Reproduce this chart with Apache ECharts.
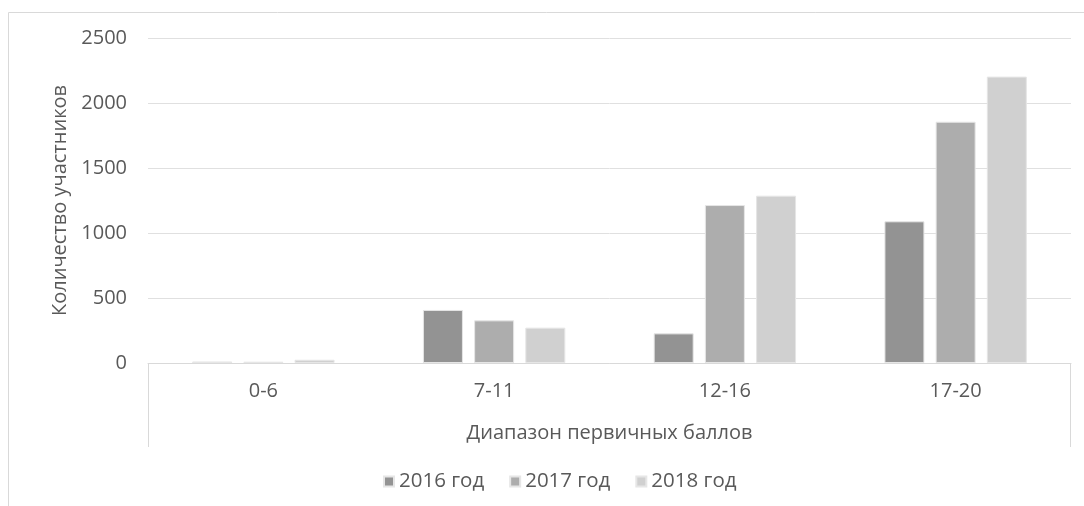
<!DOCTYPE html>
<html>
<head>
<meta charset="utf-8">
<script src="https://cdn.jsdelivr.net/npm/echarts@6/dist/echarts.min.js"></script>
<style>
  html, body { margin: 0; padding: 0; background: #fff; }
  #chart { width: 1084px; height: 506px; }
</style>
</head>
<body>
<div id="chart"></div>
<script>
// Score ranges and participant counts per year
const categories = ['0-6', '7-11', '12-16', '17-20'];
const seriesNames = ['2016 год', '2017 год', '2018 год'];
const values2016 = [12, 408, 228, 1090];
const values2017 = [10, 328, 1215, 1856];
const values2018 = [25, 272, 1287, 2203];
const yTicks = [0, 500, 1000, 1500, 2000, 2500];

const FONT = "'Open Sans', 'Noto Sans', sans-serif";
const TEXT = '#595959';
const colors = ['#939393', '#adadad', '#d0d0d0'];

const G = { left: 148, right: 13, top: 38, bottom: 143 };
const W = 1084, H = 506;
const axisY = H - G.bottom;

const chart = echarts.init(document.getElementById('chart'), null, { renderer: 'canvas' });

const allSeries = [values2016, values2017, values2018].map((vals, i) => ({
  name: seriesNames[i],
  type: 'bar',
  data: vals,
  barWidth: 40,
  barGap: '28%',
  itemStyle: { color: colors[i], borderColor: '#e6e6e6', borderWidth: 1 }
}));

chart.setOption({
  animation: false,
  textStyle: { fontFamily: FONT },
  graphic: [
    // outer frame (top and left edges visible)
    { type: 'rect', shape: { x: 8.5, y: 12.5, width: W + 20, height: H + 20 },
      style: { fill: null, stroke: '#d9d9d9', lineWidth: 1 }, silent: true },
    // category axis box sides
    { type: 'line', shape: { x1: G.left + 0.5, y1: axisY, x2: G.left + 0.5, y2: axisY + 84 },
      style: { stroke: '#d9d9d9', lineWidth: 1 }, silent: true },
    { type: 'line', shape: { x1: W - G.right - 0.5, y1: axisY, x2: W - G.right - 0.5, y2: axisY + 84 },
      style: { stroke: '#d9d9d9', lineWidth: 1 }, silent: true }
  ],
  grid: { left: G.left, right: G.right, top: G.top, bottom: G.bottom, containLabel: false },
  legend: {
    data: seriesNames,
    top: 466,
    left: 378,
    icon: 'rect',
    itemWidth: 10,
    itemHeight: 10,
    itemGap: 25,
    textStyle: { color: TEXT, fontSize: 20.5, fontFamily: FONT }
  },
  xAxis: {
    type: 'category',
    data: categories,
    name: 'Диапазон первичных баллов',
    nameLocation: 'middle',
    nameGap: 60,
    nameTextStyle: { color: TEXT, fontSize: 20, fontFamily: FONT },
    axisLine: { lineStyle: { color: '#d9d9d9', width: 1 } },
    axisTick: { show: false },
    axisLabel: { color: TEXT, fontSize: 20, margin: 18, fontFamily: FONT }
  },
  yAxis: {
    type: 'value',
    min: yTicks[0],
    max: yTicks[yTicks.length - 1],
    interval: yTicks[1] - yTicks[0],
    name: 'Количество участников',
    nameLocation: 'middle',
    nameGap: 77,
    nameTextStyle: { color: TEXT, fontSize: 20, fontFamily: FONT },
    axisLine: { show: false },
    axisTick: { show: false },
    axisLabel: { color: TEXT, fontSize: 20, margin: 21, fontFamily: FONT,
                 formatter: v => String(v) },
    splitLine: { lineStyle: { color: '#e0e0e0', width: 1 } }
  },
  series: allSeries
});
</script>
</body>
</html>
